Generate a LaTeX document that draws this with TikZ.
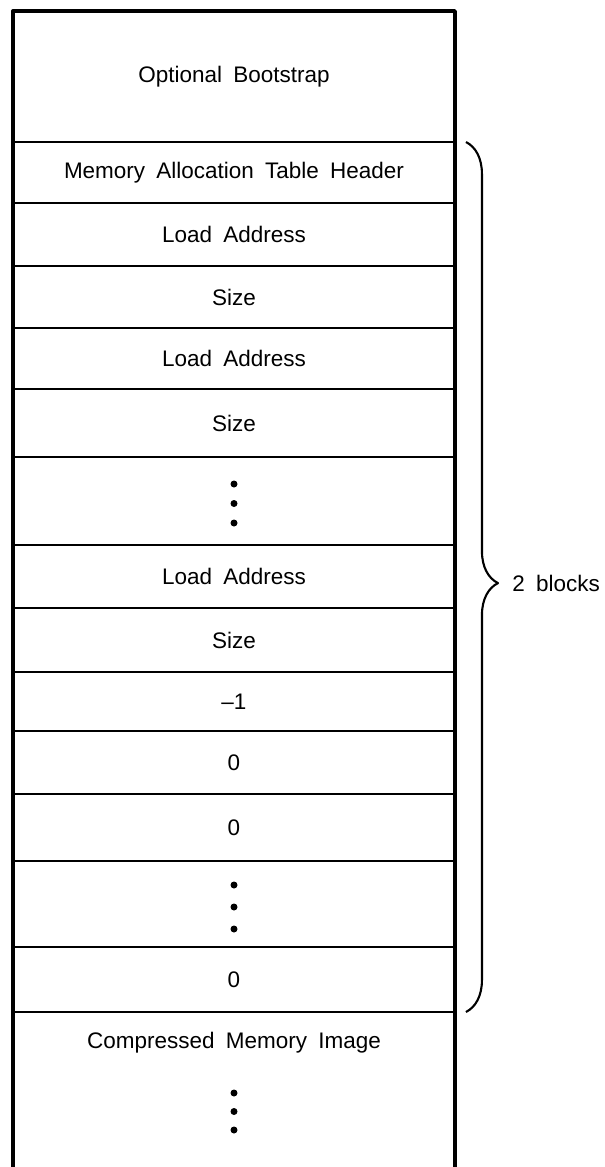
\documentclass[tikz,border=0pt]{standalone}
\usepackage{fontspec}
\setmainfont{Liberation Sans}[WordSpace=1.8]
\usetikzlibrary{decorations.pathreplacing, positioning}

\begin{document}
\begin{tikzpicture}[x=0.02cm, y=-0.02cm, line join=round,
    txt/.style={font=\fontsize{12.8}{15}\selectfont},
    cell/.style={draw, line width=1.6pt, minimum width=8.84cm, inner sep=0pt, outer sep=0pt, txt},
    frame/.style={line width=2pt},
    bigdot/.style={fill=black}]
    \useasboundingbox (0,0) rectangle (605,1167);

    % the table, one row after another
    \foreach \nm/\ya/\yb/\lbl in {boot/11/142/Optional Bootstrap,
        hdr/142/203/Memory Allocation Table Header,
        la1/203/266/Load Address, sz1/266/328/Size,
        la2/328/389/Load Address, sz2/389/457/Size,
        dt1/457/545/ ,
        la3/545/608/Load Address, sz3/608/672/Size,
        m1/672/731/\textendash1,
        z1/731/794/0, z2/794/861/0,
        dt2/861/947/ ,
        z3/947/1012/0} {
        \pgfmathsetmacro\rowh{(\yb-\ya)*0.02}
        \pgfmathsetmacro\rowc{(\ya+\yb)/2}
        \node[cell, minimum height=\rowh cm] (\nm) at (234,\rowc) {\lbl};
    }
    \node[cell, draw=none, minimum height=3.1cm] (cmi) at (234,1089.5) {};
    \node[txt] (cmitxt) at ([yshift=-0.62cm]cmi.north) {Compressed Memory Image};

    % outer border, open at the bottom
    \draw[frame] (cmi.south west) -- (boot.north west) -- (boot.north east) -- (cmi.south east);

    % vertical dots
    \foreach \d in {-1,0,1} {
        \fill[bigdot] ([yshift=\d*0.39cm-0.05cm]dt1.center) circle (0.07cm);
        \fill[bigdot] ([yshift=\d*0.44cm-0.06cm]dt2.center) circle (0.07cm);
        \fill[bigdot] ([yshift=\d*0.37cm-0.44cm]cmi.center) circle (0.07cm);
    }

    % brace over the allocation table
    \draw[line width=1.2pt, decorate, decoration={brace, amplitude=0.64cm, aspect=0.507}]
        ([xshift=0.22cm]hdr.north east) -- ([xshift=0.22cm]z3.south east);
    \coordinate (tip) at (498,583);
    \node[txt, right=0.28cm of tip, inner sep=0pt] (blk) {2 blocks};
\end{tikzpicture}
\end{document}
